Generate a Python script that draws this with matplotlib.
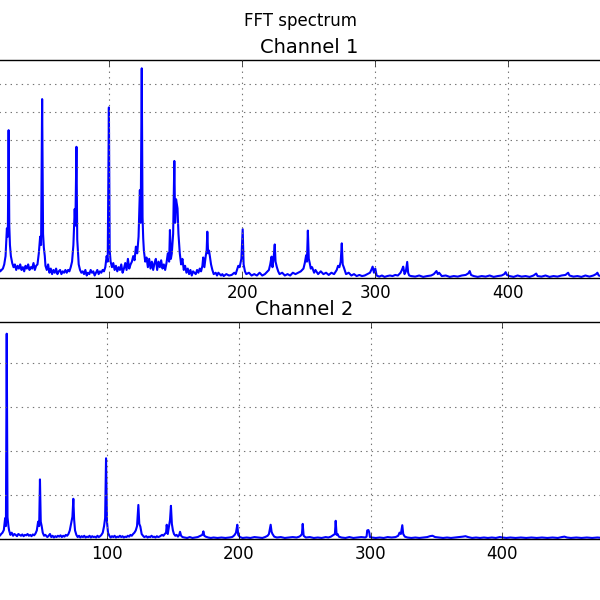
import numpy as np
import matplotlib
matplotlib.use("Agg")
import matplotlib.pyplot as plt

# ================= data =================
# Channel 1: (frequency, magnitude) points, magnitude in y-grid units
ch1_freq = [0, 2, 4, 6, 8, 10, 12, 14, 16, 17, 18, 19, 20, 21, 22, 23, 23.7, 24.3, 24.8, 25.3,
            26, 27, 28, 29, 30, 31, 32, 33, 34, 35, 36, 37, 38, 39, 40, 41, 42, 43, 44, 45,
            46, 47, 48, 48.7, 49.5, 50.2, 50.8, 51.5, 52, 53, 54, 55, 56, 57, 58, 59, 60, 61, 62, 63,
            64, 65, 66, 67, 68, 69, 70, 71, 72, 73, 74, 74.5, 75.3, 75.9, 76.5, 77, 78, 79, 80, 81,
            82, 83, 84, 85, 86, 87, 88, 89, 90, 91, 92, 93, 94, 95, 96, 97, 98, 98.8, 99.7, 100.3,
            101, 102, 103, 104, 105, 106, 107, 108, 109, 110, 111, 112, 113, 114, 115, 116, 117, 118, 119, 120,
            121, 122, 123, 123.6, 124.4, 125, 125.5, 126, 127, 128, 129, 130, 131, 132, 133, 134, 135, 136, 137, 138,
            139, 140, 141, 142, 143, 144, 145, 145.6, 146.3, 147, 148, 148.9, 149.5, 150.2, 151.3, 152, 153, 154, 155, 156,
            157, 158, 159, 160, 161, 162, 163, 164, 165, 166, 167, 168, 169, 170, 170.6, 171.5, 172.5, 173.2, 173.7, 174.3,
            175, 175.6, 176.5, 177.5, 178.5, 180, 181, 182, 184, 185, 186, 188, 190, 192, 194, 195, 196, 197, 198, 199.3,
            200.3, 201, 202, 203, 205, 207, 209, 211, 213, 215, 217, 219, 220, 221, 222, 222.7, 223.5, 224.4, 225, 226,
            227, 228, 230, 232, 234, 236, 238, 240, 242, 244, 246, 247, 248, 248.6, 249.3, 250, 250.7, 251.5, 252.5, 254,
            255, 257, 259, 261, 263, 265, 267, 269, 271, 272, 273, 274, 274.8, 275.5, 276.3, 277, 278, 280, 282, 284,
            286, 288, 290, 292, 294, 296, 297, 298, 299, 300, 301, 303, 305, 307, 309, 311, 313, 315, 317, 319,
            320, 321, 322, 323, 324, 324.7, 325.5, 327, 330, 333, 336, 339, 342, 344, 346, 347, 348, 350, 353, 356,
            359, 362, 365, 368, 370, 371, 372, 374, 377, 380, 383, 386, 389, 392, 395, 397, 398, 399, 401, 404,
            407, 410, 413, 416, 419, 421, 422, 425, 428, 431, 434, 437, 440, 443, 445, 446, 449, 452, 455, 458,
            461, 464, 466, 467, 468, 471, 475, 480, 485, 490, 495, 500]
ch1_mag = [2.0, 0.9, 0.6, 0.5, 0.4, 0.45, 0.35, 0.4, 0.3, 0.35, 0.25, 0.3, 0.35, 0.5, 0.8, 1.8, 1.5, 5.34, 1.9, 1.2,
           0.8, 0.55, 0.4, 0.5, 0.3, 0.45, 0.35, 0.5, 0.3, 0.4, 0.25, 0.45, 0.35, 0.5, 0.3, 0.4, 0.35, 0.55, 0.3, 0.45,
           0.5, 0.9, 1.5, 1.2, 6.46, 1.6, 1.1, 0.8, 0.45, 0.3, 0.5, 0.2, 0.35, 0.15, 0.3, 0.2, 0.35, 0.15, 0.25, 0.3,
           0.15, 0.25, 0.2, 0.3, 0.2, 0.3, 0.25, 0.4, 0.6, 1.2, 2.5, 1.9, 4.74, 1.4, 0.9, 0.5, 0.3, 0.2, 0.25, 0.15,
           0.3, 0.1, 0.2, 0.15, 0.3, 0.2, 0.25, 0.1, 0.2, 0.3, 0.15, 0.25, 0.2, 0.3, 0.25, 0.4, 0.8, 0.6, 6.16, 1.0,
           0.6, 0.4, 0.55, 0.3, 0.45, 0.25, 0.4, 0.3, 0.5, 0.2, 0.35, 0.55, 0.3, 0.7, 0.35, 0.5, 0.6, 0.8, 0.65, 1.14,
           0.9, 1.5, 3.18, 2.0, 7.57, 2.2, 1.44, 1.0, 0.6, 0.75, 0.4, 0.7, 0.35, 0.6, 0.3, 0.55, 0.7, 0.3, 0.6, 0.4,
           0.65, 0.35, 0.5, 0.3, 0.55, 0.9, 0.6, 1.74, 0.7, 0.9, 1.6, 4.23, 2.0, 2.85, 2.52, 1.6, 0.9, 0.5, 0.7, 0.3,
           0.45, 0.2, 0.35, 0.15, 0.3, 0.1, 0.25, 0.2, 0.15, 0.3, 0.2, 0.35, 0.25, 0.45, 0.75, 0.4, 0.8, 1.0, 1.68, 0.9,
           1.0, 0.8, 0.5, 0.3, 0.15, 0.2, 0.1, 0.2, 0.1, 0.15, 0.08, 0.15, 0.1, 0.12, 0.2, 0.15, 0.3, 0.45, 0.4, 0.7,
           1.77, 0.5, 0.25, 0.15, 0.2, 0.1, 0.15, 0.1, 0.2, 0.1, 0.15, 0.25, 0.3, 0.5, 0.78, 0.4, 0.7, 1.22, 0.6, 0.4,
           0.25, 0.15, 0.2, 0.1, 0.15, 0.1, 0.2, 0.15, 0.2, 0.25, 0.35, 0.55, 0.83, 0.6, 1.72, 0.7, 0.55, 0.35, 0.4, 0.2,
           0.3, 0.15, 0.25, 0.15, 0.2, 0.12, 0.2, 0.15, 0.3, 0.45, 0.4, 0.6, 1.26, 0.5, 0.4, 0.3, 0.15, 0.2, 0.1, 0.15,
           0.08, 0.12, 0.08, 0.1, 0.15, 0.2, 0.3, 0.42, 0.2, 0.35, 0.1, 0.06, 0.1, 0.05, 0.08, 0.1, 0.08, 0.12, 0.1, 0.2,
           0.3, 0.42, 0.15, 0.25, 0.59, 0.2, 0.1, 0.08, 0.06, 0.1, 0.05, 0.08, 0.1, 0.15, 0.26, 0.15, 0.2, 0.08, 0.1, 0.05,
           0.08, 0.06, 0.1, 0.12, 0.18, 0.26, 0.12, 0.08, 0.05, 0.08, 0.06, 0.1, 0.05, 0.08, 0.1, 0.15, 0.22, 0.12, 0.08, 0.05,
           0.1, 0.06, 0.08, 0.05, 0.1, 0.17, 0.08, 0.06, 0.1, 0.05, 0.08, 0.06, 0.1, 0.12, 0.2, 0.1, 0.06, 0.08, 0.05, 0.1,
           0.06, 0.1, 0.15, 0.2, 0.1, 0.06, 0.08, 0.05, 0.08, 0.05, 0.07, 0.05]

# Channel 2
ch2_freq = [0, 2, 5, 8, 10, 12, 14, 16, 18, 19, 20, 21, 22, 23, 23.6, 24.2, 24.8, 25.5, 26, 27,
            28, 29, 30, 31, 32, 33, 34, 35, 36, 37, 38, 39, 40, 41, 42, 43, 44, 45, 46, 47,
            48, 48.8, 49.4, 50, 50.7, 51.5, 52.5, 53.5, 55, 56, 57, 58, 59, 60, 61, 62, 63, 64, 65, 66,
            67, 68, 69, 70, 71, 72, 73, 74, 74.7, 75.3, 76, 77, 78, 79, 80, 81, 82, 83, 84, 85,
            86, 87, 88, 89, 90, 91, 92, 93, 94, 95, 96, 97, 98, 98.8, 99.5, 100.2, 101, 102, 103, 104,
            105, 106, 107, 108, 109, 110, 111, 112, 113, 114, 115, 116, 117, 118, 119, 120, 121, 122, 123, 124,
            124.7, 125.5, 126.5, 127.5, 128.5, 130, 131, 132, 133, 134, 135, 136, 137, 138, 139, 140, 141, 142, 143, 144,
            145, 145.5, 146.3, 147, 148, 148.7, 149.4, 150.2, 151, 152, 153, 154, 155, 155.6, 156.4, 157.5, 159, 161, 163, 165,
            167, 169, 171, 172.5, 173.3, 174, 175, 177, 179, 181, 184, 187, 190, 193, 195, 196, 197, 198, 199, 199.7,
            201, 203, 206, 209, 212, 215, 218, 220, 222, 223, 224.3, 225, 225.7, 227, 229, 232, 235, 238, 241, 244,
            246, 247, 248, 248.6, 249.3, 251, 254, 257, 260, 263, 266, 268, 270, 271, 272, 273, 273.6, 274.3, 275, 276,
            278, 281, 284, 287, 290, 293, 296, 297, 297.5, 298.4, 299, 299.6, 301, 304, 307, 310, 313, 316, 319, 321,
            322, 323, 324.1, 324.8, 326, 328, 331, 334, 337, 340, 343, 345, 347, 349, 352, 355, 358, 361, 364, 367,
            370, 372, 374, 377, 380, 383, 386, 389, 392, 395, 398, 400, 403, 406, 410, 414, 418, 422, 426, 430,
            434, 438, 442, 445, 447, 449, 452, 456, 460, 464, 468, 472, 476, 480, 485, 490, 495, 500]
ch2_mag = [1.5, 0.3, 0.15, 0.1, 0.12, 0.08, 0.1, 0.07, 0.1, 0.08, 0.12, 0.15, 0.21, 0.48, 0.3, 4.67, 0.5, 0.3, 0.2, 0.1,
           0.15, 0.08, 0.12, 0.1, 0.07, 0.12, 0.1, 0.08, 0.11, 0.07, 0.1, 0.09, 0.12, 0.08, 0.1, 0.07, 0.11, 0.09, 0.13, 0.2,
           0.4, 0.3, 1.36, 0.4, 0.3, 0.15, 0.08, 0.1, 0.05, 0.08, 0.12, 0.05, 0.08, 0.04, 0.07, 0.05, 0.08, 0.06, 0.09, 0.05,
           0.08, 0.06, 0.1, 0.08, 0.12, 0.2, 0.35, 0.51, 0.92, 0.45, 0.2, 0.1, 0.05, 0.08, 0.04, 0.07, 0.05, 0.08, 0.04, 0.06,
           0.05, 0.08, 0.04, 0.07, 0.05, 0.06, 0.04, 0.08, 0.05, 0.07, 0.1, 0.15, 0.3, 0.48, 1.84, 0.4, 0.15, 0.08, 0.04, 0.07,
           0.05, 0.08, 0.04, 0.06, 0.05, 0.08, 0.05, 0.07, 0.04, 0.06, 0.05, 0.08, 0.06, 0.1, 0.08, 0.12, 0.15, 0.2, 0.3, 0.78,
           0.35, 0.29, 0.12, 0.08, 0.05, 0.07, 0.04, 0.06, 0.05, 0.08, 0.05, 0.06, 0.04, 0.07, 0.05, 0.06, 0.08, 0.1, 0.08, 0.12,
           0.15, 0.33, 0.12, 0.25, 0.44, 0.76, 0.35, 0.2, 0.12, 0.08, 0.1, 0.06, 0.1, 0.17, 0.08, 0.05, 0.04, 0.03, 0.05, 0.03,
           0.04, 0.05, 0.08, 0.1, 0.18, 0.08, 0.06, 0.04, 0.03, 0.04, 0.03, 0.04, 0.03, 0.04, 0.05, 0.07, 0.1, 0.15, 0.33, 0.1,
           0.05, 0.03, 0.04, 0.03, 0.05, 0.04, 0.03, 0.05, 0.08, 0.12, 0.33, 0.17, 0.12, 0.06, 0.04, 0.05, 0.03, 0.04, 0.05, 0.04,
           0.06, 0.08, 0.12, 0.35, 0.08, 0.04, 0.05, 0.03, 0.04, 0.03, 0.05, 0.04, 0.06, 0.08, 0.1, 0.12, 0.42, 0.1, 0.12, 0.06,
           0.04, 0.03, 0.05, 0.03, 0.04, 0.05, 0.04, 0.06, 0.2, 0.21, 0.16, 0.05, 0.04, 0.03, 0.04, 0.03, 0.05, 0.04, 0.05, 0.08,
           0.15, 0.12, 0.32, 0.12, 0.06, 0.04, 0.03, 0.04, 0.03, 0.04, 0.05, 0.07, 0.08, 0.05, 0.04, 0.03, 0.04, 0.03, 0.04, 0.05,
           0.06, 0.07, 0.05, 0.03, 0.04, 0.03, 0.04, 0.03, 0.04, 0.03, 0.05, 0.04, 0.03, 0.04, 0.03, 0.04, 0.03, 0.04, 0.03, 0.04,
           0.03, 0.04, 0.03, 0.05, 0.06, 0.04, 0.03, 0.04, 0.03, 0.04, 0.03, 0.04, 0.03, 0.04, 0.03, 0.04, 0.03, 0.03]

# only the ticks that fall inside the cropped canvas
x_ticks = [100, 200, 300, 400]
channels = [("Channel 1", ch1_freq, ch1_mag, 7.87, range(0, 8)),
            ("Channel 2", ch2_freq, ch2_mag, 4.93, range(0, 5))]
# ===============================================================

plt.style.use('classic')
fig = plt.figure(figsize=(6, 6), dpi=100, facecolor='white')
fig.suptitle("FFT spectrum", fontsize=12, y=0.98)

# the axes run past both edges of the canvas, like the cropped original
positions = [[-0.0395, 0.5362, 1.1083, 0.3638],
             [-0.0420, 0.1012, 1.0992, 0.3617]]

for (title, freq, mag, ytop, yt), pos in zip(channels, positions):
    ax = fig.add_axes(pos)
    ax.plot(freq, mag, color='b', lw=1.5)
    ax.set_xlim(0, 500)
    ax.set_ylim(0, ytop)
    ax.set_xticks(x_ticks)
    ax.set_yticks(list(yt))
    ax.tick_params(labelleft=False)
    ax.grid(True, color='0.45', linestyle=':', linewidth=0.8)
    ax.set_title(title, fontsize=14, pad=5)

plt.savefig("out.png", dpi=100, facecolor='white')
